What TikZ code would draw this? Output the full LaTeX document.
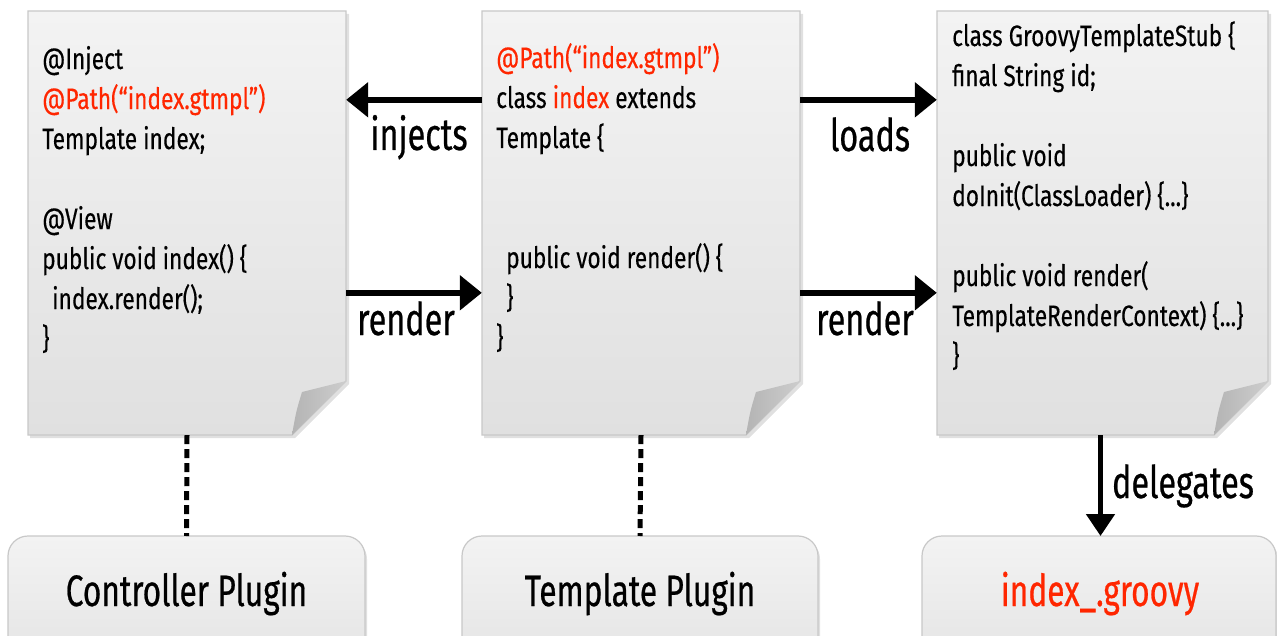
\documentclass[tikz,border=0pt]{standalone}
\usepackage{fontspec}
\setmainfont{Fira Sans}[FakeStretch=0.77,FakeBold=0.3]
\newfontfamily\labf{Fira Sans}[FakeStretch=0.72,FakeBold=0.5]
\usetikzlibrary{arrows.meta}
\definecolor{hl}{RGB}{255,38,0}
\definecolor{docTop}{RGB}{243,243,243}
\definecolor{docBot}{RGB}{224,224,224}
\definecolor{docLine}{RGB}{200,200,200}
\definecolor{foldA}{RGB}{205,205,205}
\definecolor{foldB}{RGB}{180,180,180}
\newcommand\docshape[2]{%
  \fill[black,opacity=.12] (#1+2,14) -- (#2+3,14) -- (#2+3,384) -- (#2-51,438) -- (#1+2,438) -- cycle;
  \shade[top color=docTop,bottom color=docBot,draw=docLine,line width=1.2pt]
    (#1,11) -- (#2,11) -- (#2,381) -- (#2-54,435) -- (#1,435) -- cycle;
  \shade[left color=foldB,right color=foldA]
    (#2,381) -- (#2-54,435) .. controls (#2-50,412) .. (#2-44,392) -- cycle;
}
\newcommand\plugshape[2]{%
  \fill[black,opacity=.12,rounded corners=20pt] (#1+2,539) rectangle (#2+2,700);
  \shade[top color=docTop,bottom color=docBot,draw=docLine,line width=1.2pt,rounded corners=20pt]
    (#1,536) rectangle (#2,700);
}
\begin{document}
\begin{tikzpicture}[x=1pt,y=-1pt,
  docnode/.style={inner sep=0pt,minimum height=424pt},
  code/.style={anchor=base west,align=left,inner sep=0pt,font=\fontsize{29.5}{40}\selectfont},
  lab/.style={anchor=base,inner sep=0pt,font=\labf\fontsize{45}{50}\selectfont},
  plugtext/.style={anchor=base,inner sep=0pt,font=\labf\fontsize{44}{50}\selectfont},
  plugnode/.style={inner sep=0pt,minimum height=100pt},
  bigarrow/.style={line width=6.5pt,-{Triangle[length=22pt,width=34pt]}},
  delarrow/.style={line width=5pt,-{Triangle[length=22pt,width=28pt]}},
  dotline/.style={line width=5pt,dash pattern=on 9pt off 5pt}]
\useasboundingbox (0,0) rectangle (1277,636);
\fill[white] (0,0) rectangle (1277,636);
\begin{scope}
\clip (0,0) rectangle (1277,636);
% documents
\docshape{28}{346}
\docshape{482}{800}
\docshape{937}{1268}
\node[docnode,minimum width=318pt] (d1) at (187,223) {};
\node[docnode,minimum width=318pt] (d2) at (641,223) {};
\node[docnode,minimum width=331pt] (d3) at (1102.5,223) {};
% plugin boxes
\plugshape{8}{365}
\plugshape{462}{818}
\plugshape{922}{1276}
\node[plugnode,minimum width=357pt,anchor=north] (p1) at (186.5,536) {};
\node[plugnode,minimum width=356pt,anchor=north] (p2) at (640,536) {};
\node[plugnode,minimum width=354pt,anchor=north] (p3) at (1099,536) {};
\end{scope}
% code texts (anchored at the baseline of their last line)
\node[code] (c1) at (42,349) {@Inject\\
  \textcolor{hl}{@Path(“index.gtmpl”)}\\
  Template index;\\[40pt]
  @View\\
  public void index() \{\\
  \hspace*{10pt}index.render();\\
  \}};
\node[code] (c2) at (496,348) {\textcolor{hl}{@Path(“index.gtmpl”)}\\
  class \textcolor{hl}{index} extends\\
  Template \{\\[80pt]
  \hspace*{10pt}public void render() \{\\
  \hspace*{10pt}\}\\
  \}};
\node[code] (c3) at (952,366) {class GroovyTemplateStub \{\\
  final String id;\\[40pt]
  public void\\
  doInit(ClassLoader) \{...\}\\[40pt]
  public void render(\\
  TemplateRenderContext) \{...\}\\
  \}};
% plugin labels
\node[plugtext] (t1) at (186.5,606) {Controller Plugin};
\node[plugtext] (t2) at (640,606) {Template Plugin};
\node[plugtext,text=hl] (t3) at (1100,606) {index\_.groovy};
% connectors
\draw[bigarrow] ([yshift=-89pt]d2.north west) -- ([yshift=-89pt]d1.north east);
\draw[bigarrow] ([yshift=-282pt]d1.north east) -- ([yshift=-282pt]d2.north west);
\draw[bigarrow] ([yshift=-89pt]d2.north east) -- ([yshift=-89pt]d3.north west);
\draw[bigarrow] ([yshift=-282pt]d2.north east) -- ([yshift=-282pt]d3.north west);
\draw[delarrow] (d3.south) ++(-2,0) coordinate (ds) (ds) -- (ds |- p3.north);
\draw[dotline] (d1.south) -- (p1.north);
\draw[dotline] (d2.south) -- (p2.north);
% connector labels
\node[lab] (l1) at (419,150) {injects};
\node[lab] (l2) at (406,335) {render};
\node[lab] (l3) at (870,151) {loads};
\node[lab] (l4) at (865,335) {render};
\node[lab] (l5) at (1183,498) {delegates};
\end{tikzpicture}
\end{document}
